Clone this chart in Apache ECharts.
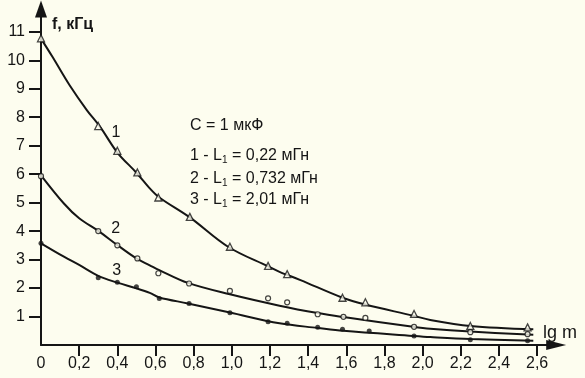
<!DOCTYPE html>
<html>
<head>
<meta charset="utf-8">
<script src="https://cdn.jsdelivr.net/npm/echarts@6/dist/echarts.min.js"></script>
<style>
html,body{margin:0;padding:0;background:#FDFDEF;}
#chart{width:585px;height:378px;}
</style>
</head>
<body>
<div id="chart"></div>
<script>
// ---- data ----
const xTickValues = [0, 0.2, 0.4, 0.6, 0.8, 1.0, 1.2, 1.4, 1.6, 1.8, 2.0, 2.2, 2.4, 2.6];
const xTickLabels = ['0', '0,2', '0,4', '0,6', '0,8', '1,0', '1,2', '1,4', '1,6', '1,8', '2,0', '2,2', '2,4', '2,6'];
const yTickValues = [1, 2, 3, 4, 5, 6, 7, 8, 9, 10, 11];

// fitted curves (lg m, f kHz)
const curve1 = [[0,10.76],[0.06,10.12],[0.15,9.12],[0.24,8.25],[0.31,7.66],[0.4,6.76],[0.5,6.05],[0.57,5.5],[0.62,5.18],[0.78,4.48],[0.98,3.45],[1.19,2.76],[1.25,2.57],[1.36,2.28],[1.58,1.66],[1.7,1.42],[1.95,1.03],[2.04,0.88],[2.25,0.67],[2.58,0.55]];
const curve2 = [[0,5.96],[0.12,4.97],[0.2,4.45],[0.3,4.01],[0.4,3.51],[0.5,3.04],[0.57,2.8],[0.62,2.63],[0.77,2.18],[0.99,1.78],[1.25,1.38],[1.45,1.12],[1.585,0.98],[1.95,0.64],[2.04,0.57],[2.25,0.47],[2.58,0.36]];
const curve3 = [[0,3.57],[0.12,3.1],[0.2,2.81],[0.3,2.43],[0.4,2.19],[0.5,1.99],[0.57,1.83],[0.62,1.67],[0.77,1.46],[0.99,1.14],[1.25,0.76],[1.45,0.6],[1.585,0.5],[1.95,0.32],[2.04,0.28],[2.25,0.21],[2.58,0.15]];

// measured points
const points1 = [[0,10.77],[0.30,7.69],[0.40,6.82],[0.505,6.06],[0.615,5.18],[0.78,4.5],[0.99,3.45],[1.19,2.78],[1.29,2.49],[1.58,1.66],[1.70,1.50],[1.955,1.09],[2.25,0.67],[2.55,0.62]];
const points2 = [[0,5.93],[0.30,4.0],[0.40,3.5],[0.505,3.04],[0.615,2.52],[0.776,2.16],[0.99,1.9],[1.19,1.64],[1.29,1.50],[1.45,1.08],[1.585,0.99],[1.70,0.95],[1.955,0.64],[2.25,0.45],[2.55,0.38]];
const points3 = [[0,3.57],[0.30,2.36],[0.40,2.2],[0.50,2.05],[0.62,1.63],[0.776,1.46],[0.99,1.13],[1.19,0.82],[1.29,0.76],[1.45,0.62],[1.58,0.55],[1.72,0.49],[1.955,0.32],[2.25,0.18],[2.55,0.15]];

// curve number labels [x, y, text]
const curveLabels = [[0.393, 7.47, '1'], [0.392, 4.1, '2'], [0.397, 2.63, '3']];

const yAxisTitle = 'f, кГц';
const xAxisTitle = 'lg m';
const legendLines = ['C = 1 мкФ', '1 - L{s|1} = 0,22 мГн', '2 - L{s|1} = 0,732 мГн', '3 - L{s|1} = 2,01 мГн'];

// ---- chart ----
const FONT = '"Liberation Sans", Arial, sans-serif';
const INK = '#151515';
const BG = '#FDFDEF';
const chart = echarts.init(document.getElementById('chart'), null, {renderer: 'canvas'});

const lineSeries = (data) => ({
  type: 'line', data: data, smooth: 0.35, showSymbol: false, silent: true,
  lineStyle: {color: INK, width: 2}, z: 2
});
const richSub = {s: {fontSize: 10, fontFamily: FONT, fill: INK, verticalAlign: 'bottom', lineHeight: 10}};
const txt = (left, top, text, size, weight, rich) => ({
  type: 'text', left: left, top: top, silent: true,
  style: {text: text, fontSize: size, fontWeight: weight, fontFamily: FONT, fill: INK, lineHeight: size + 2, rich: rich}
});

const option = {
  backgroundColor: BG,
  animation: false,
  textStyle: {fontFamily: FONT},
  grid: {left: 41, right: 28.8, top: 9, bottom: 33, containLabel: false},
  xAxis: {
    type: 'value', min: 0, max: 2.7,
    axisLine: {show: true, lineStyle: {color: INK, width: 2}, symbol: ['none', 'triangle'], symbolSize: [10, 20]},
    axisTick: {show: true, inside: false, length: 11, lineStyle: {color: INK, width: 2}, customValues: xTickValues.slice(1)},
    axisLabel: {color: INK, fontSize: 16, fontFamily: FONT, margin: 11,
      customValues: xTickValues,
      formatter: (v) => { const i = xTickValues.findIndex(t => Math.abs(t - v) < 1e-6); return i >= 0 ? xTickLabels[i] : ''; }},
    splitLine: {show: false}
  },
  yAxis: {
    type: 'value', min: 0, max: 11.8,
    axisLine: {show: true, lineStyle: {color: INK, width: 2}, symbol: ['none', 'triangle'], symbolSize: [12, 17]},
    axisTick: {show: true, inside: false, length: 12, lineStyle: {color: INK, width: 2}, customValues: yTickValues},
    axisLabel: {color: INK, fontSize: 16, fontFamily: FONT, margin: 16, customValues: yTickValues},
    splitLine: {show: false}
  },
  series: [
    lineSeries(curve1), lineSeries(curve2), lineSeries(curve3),
    {type: 'scatter', data: points1, symbol: 'triangle', symbolSize: [7, 7], silent: true,
      itemStyle: {color: BG, borderColor: INK, borderWidth: 1.3}, z: 3},
    {type: 'scatter', data: points2, symbol: 'circle', symbolSize: 5, silent: true,
      itemStyle: {color: BG, borderColor: INK, borderWidth: 1.2}, z: 3},
    {type: 'scatter', data: points3, symbol: 'circle', symbolSize: 5, silent: true,
      itemStyle: {color: INK, borderColor: INK, borderWidth: 0}, z: 3}
  ],
  graphic: [
    txt(52, 16, yAxisTitle, 16, 'bold'),
    txt(543, 323, xAxisTitle, 18, 'normal'),
    txt(190, 117, legendLines[0], 16, 'normal'),
    txt(190, 147, legendLines[1], 16, 'normal', richSub),
    txt(190, 170, legendLines[2], 16, 'normal', richSub),
    txt(190, 191, legendLines[3], 16, 'normal', richSub)
  ]
};
chart.setOption(option);

// curve number labels placed through the axes' own scales
const labelGraphics = curveLabels.map(([x, y, t]) => {
  const p = chart.convertToPixel({gridIndex: 0}, [x, y]);
  return {type: 'text', x: p[0], y: p[1], silent: true,
    style: {text: t, fontSize: 16, fontFamily: FONT, fill: INK, align: 'center', verticalAlign: 'middle'}};
});
chart.setOption({graphic: option.graphic.concat(labelGraphics)});
</script>
</body>
</html>
